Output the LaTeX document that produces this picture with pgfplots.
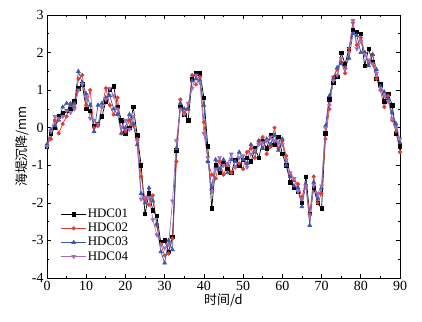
\documentclass[border=0pt]{standalone}
\usepackage{pgfplots}
\pgfplotsset{compat=1.18}
\usepackage{fontspec}
\setmainfont{Liberation Serif}
\newfontfamily\cjk{Noto Sans CJK SC}
\definecolor{cred}{RGB}{228,58,48}
\definecolor{cblue}{RGB}{58,88,168}
\definecolor{cpurple}{RGB}{160,108,190}
\begin{document}
\begin{tikzpicture}
\begin{axis}[
  scale only axis, width=353bp, height=263bp,
  xmin=0, xmax=90, ymin=-4, ymax=3,
  xtick={0,10,...,90}, ytick={-4,-3,...,3},
  minor x tick num=1, minor y tick num=1,
  tick align=inside, tick pos=both,
  major tick length=4pt, minor tick length=2.5pt,
  axis line style={line width=0.9pt},
  every tick/.style={black, line width=0.7pt},
  /pgf/number format/assume math mode=true,
  tick label style={font=\fontsize{14}{14}\selectfont},
  xlabel={\cjk\fontsize{13}{13}\selectfont 时间/d},
  ylabel={\cjk\fontsize{13}{13}\selectfont 海堤沉降/mm},
  xlabel style={yshift=4pt},
  ylabel style={yshift=-4pt},
  legend style={at={(rel axis cs:0.035,0.27)}, anchor=north west, draw=none, fill=none,
    font=\fontsize{13}{13}\selectfont, row sep=2pt, inner sep=1pt,
    nodes={inner sep=1pt}},
  legend cell align=left,
  legend image code/.code={\draw[mark repeat=2,mark phase=2] plot coordinates {(0cm,0cm)(0.45cm,0cm)(0.9cm,0cm)};},
  every axis plot/.append style={line width=0.7pt, mark size=1.7pt},
]
\addplot[black, mark=square*] coordinates {
(0,-0.5)(1,-0.15)(2,0.0)(3,0.3)(4,0.4)(5,0.45)(6,0.5)(7,0.7)(8,1.05)(9,1.15)
(10,0.5)(11,0.45)(12,0.05)(13,0.1)(14,0.3)(15,0.7)(16,1.0)(17,1.1)(18,0.55)(19,0.2)
(20,-0.15)(21,0.0)(22,0.55)(23,-0.2)(24,-1.0)(25,-2.3)(26,-1.75)(27,-2.2)(28,-2.35)(29,-3.05)
(30,-3.0)(31,-3.3)(32,-2.9)(33,-0.6)(34,0.55)(35,0.35)(36,0.2)(37,1.3)(38,1.45)(39,1.45)
(40,0.8)(41,-0.5)(42,-2.15)(43,-1.0)(44,-1.2)(45,-0.95)(46,-1.1)(47,-1.2)(48,-0.85)(49,-1.0)
(50,-0.85)(51,-0.8)(52,-0.9)(53,-0.55)(54,-0.8)(55,-0.35)(56,-0.55)(57,-0.2)(58,-0.45)(59,-0.25)
(60,-0.7)(61,-1.0)(62,-1.45)(63,-1.6)(64,-1.7)(65,-2.0)(66,-1.3)(67,-2.3)(68,-1.6)(69,-2.0)
(70,-2.15)(71,-0.15)(72,0.75)(73,1.2)(74,1.35)(75,2.0)(76,1.7)(77,2.1)(78,2.6)(79,2.55)
(80,2.5)(81,1.65)(82,2.1)(83,1.75)(84,1.3)(85,1.15)(86,0.7)(87,0.9)(88,0.6)(89,-0.15)(90,-0.5)
};
\addlegendentry{HDC01}
\addplot[cred, mark=*] coordinates {
(0,-0.45)(1,-0.3)(2,0.2)(3,-0.15)(4,0.1)(5,0.3)(6,0.65)(7,0.55)(8,1.3)(9,1.4)
(10,0.6)(11,1.0)(12,0.0)(13,0.05)(14,0.55)(15,1.05)(16,0.6)(17,0.35)(18,0.8)(19,-0.15)
(20,-0.1)(21,0.2)(22,0.05)(23,-0.3)(24,-1.3)(25,-1.9)(26,-2.05)(27,-1.8)(28,-2.6)(29,-3.1)
(30,-3.4)(31,-3.35)(32,-2.95)(33,-0.9)(34,0.75)(35,0.4)(36,0.5)(37,1.4)(38,1.15)(39,1.35)
(40,0.15)(41,-0.9)(42,-1.25)(43,-1.35)(44,-0.9)(45,-1.25)(46,-1.0)(47,-1.2)(48,-1.05)(49,-0.95)
(50,-1.1)(51,-0.65)(52,-0.55)(53,-0.8)(54,-0.35)(55,-0.25)(56,-0.7)(57,-0.5)(58,0.0)(59,-0.55)
(60,-0.35)(61,-0.75)(62,-1.25)(63,-1.4)(64,-1.5)(65,-1.85)(66,-1.55)(67,-2.3)(68,-1.3)(69,-2.0)
(70,-1.75)(71,-0.3)(72,0.5)(73,1.35)(74,1.55)(75,1.75)(76,1.45)(77,2.1)(78,2.8)(79,2.2)
(80,2.4)(81,2.0)(82,1.7)(83,1.95)(84,1.3)(85,1.0)(86,0.55)(87,0.85)(88,0.2)(89,-0.1)(90,-0.65)
};
\addlegendentry{HDC02}
\addplot[cblue, mark=triangle*, mark size=2.1pt] coordinates {
(0,-0.45)(1,-0.05)(2,0.05)(3,0.2)(4,0.55)(5,0.65)(6,0.6)(7,0.65)(8,1.5)(9,1.2)
(10,0.9)(11,0.6)(12,-0.1)(13,0.6)(14,0.65)(15,0.8)(16,0.85)(17,0.5)(18,0.35)(19,-0.15)
(20,0.0)(21,0.35)(22,0.1)(23,-0.45)(24,-1.75)(25,-2.0)(26,-1.6)(27,-1.95)(28,-2.55)(29,-3.3)
(30,-3.6)(31,-3.0)(32,-3.25)(33,-0.55)(34,0.65)(35,0.5)(36,0.5)(37,1.25)(38,1.3)(39,1.25)
(40,0.6)(41,-0.9)(42,-1.6)(43,-0.85)(44,-1.1)(45,-0.85)(46,-1.2)(47,-0.85)(48,-0.9)(49,-0.65)
(50,-0.85)(51,-0.95)(52,-0.45)(53,-0.65)(54,-0.35)(55,-0.55)(56,-0.3)(57,-0.45)(58,-0.2)(59,-0.6)
(60,-0.3)(61,-1.0)(62,-1.3)(63,-1.55)(64,-1.6)(65,-2.1)(66,-1.5)(67,-2.6)(68,-1.45)(69,-1.9)
(70,-1.6)(71,0.05)(72,0.85)(73,1.3)(74,1.6)(75,1.7)(76,1.6)(77,1.85)(78,2.5)(79,2.45)
(80,2.0)(81,2.0)(82,1.65)(83,1.95)(84,1.55)(85,1.1)(86,0.95)(87,0.75)(88,0.4)(89,0.1)(90,-0.4)
};
\addlegendentry{HDC03}
\addplot[cpurple, mark=triangle*, mark options={rotate=180}, mark size=2.1pt] coordinates {
(0,-0.5)(1,-0.1)(2,0.3)(3,0.25)(4,0.3)(5,0.45)(6,0.4)(7,0.5)(8,1.0)(9,1.15)
(10,0.8)(11,0.25)(12,0.2)(13,0.1)(14,0.55)(15,0.75)(16,1.05)(17,0.85)(18,0.5)(19,0.0)
(20,0.2)(21,-0.05)(22,0.3)(23,-0.35)(24,-1.9)(25,-1.85)(26,-1.85)(27,-2.45)(28,-2.85)(29,-3.1)
(30,-3.2)(31,-3.1)(32,-1.95)(33,-0.35)(34,0.5)(35,0.35)(36,0.65)(37,1.05)(38,1.4)(39,1.2)
(40,-0.15)(41,-0.8)(42,-1.7)(43,-1.1)(44,-0.8)(45,-1.0)(46,-0.95)(47,-0.7)(48,-1.05)(49,-0.8)
(50,-0.75)(51,-1.05)(52,-0.7)(53,-0.6)(54,-0.45)(55,-0.4)(56,-0.35)(57,-0.25)(58,-0.35)(59,-0.4)
(60,-0.45)(61,-0.85)(62,-1.2)(63,-1.35)(64,-1.7)(65,-1.9)(66,-1.55)(67,-2.35)(68,-1.55)(69,-1.75)
(70,-1.55)(71,0.0)(72,0.6)(73,1.25)(74,1.4)(75,1.85)(76,1.55)(77,2.0)(78,2.85)(79,2.1)
(80,2.3)(81,1.95)(82,1.8)(83,1.7)(84,1.45)(85,1.05)(86,0.85)(87,0.7)(88,0.25)(89,0.0)(90,-0.3)
};
\addlegendentry{HDC04}
\end{axis}
\pgfresetboundingbox
\useasboundingbox ([shift={(-47bp,-44bp)}]current axis.south west) rectangle ([shift={(22bp,15bp)}]current axis.north east);
\end{tikzpicture}
\end{document}
